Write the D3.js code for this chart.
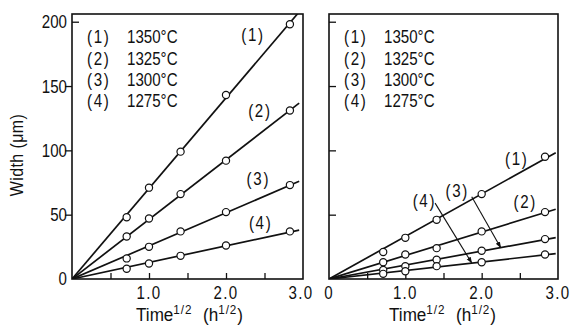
<!DOCTYPE html>
<html>
<head>
<meta charset="utf-8">
<script src="https://cdn.jsdelivr.net/npm/d3@7"></script>
<style>
  body { margin: 0; background: #fff; }
  svg text { font-family: "Liberation Sans", Arial, sans-serif; fill: #111; }
</style>
</head>
<body>
<svg id="chart"></svg>
<script>
// sqrt of time (h^1/2) where the widths were measured
const sqrtTime = [0.71, 1.0, 1.41, 2.0, 2.83];

// left panel widths (um)
const left1350 = [48, 71, 99, 143, 198];
const left1325 = [33, 47, 66, 92, 131];
const left1300 = [16, 25, 37, 52, 73];
const left1275 = [8, 12, 18, 26, 37];

// right panel widths (um)
const right1350 = [21, 32, 46, 66, 95];
const right1325 = [13, 19, 24, 37, 52];
const right1300 = [7, 10, 15, 22, 31];
const right1275 = [4, 6, 10, 13, 19];

const seriesTags = ["(1)", "(2)", "(3)", "(4)"];
const temps = ["1350°C", "1325°C", "1300°C", "1275°C"];

const yTickValues = [50, 100, 150, 200];
const yLabelValues = [0, 50, 100, 150, 200];
const xTickValues = [0.5, 1, 1.5, 2, 2.5];

const svg = d3.select("#chart").attr("width", 575).attr("height", 327);

const y = d3.scaleLinear().domain([0, 206]).range([279, 14]);

// the print uses a narrow face, squeeze normal glyphs sideways
const NARROW = 0.84;
function label(g, x, yy, s, size, anchor) {
  return g.append("text")
    .attr("transform", `translate(${x},${yy}) scale(${NARROW},1)`)
    .attr("dy", "0.36em")
    .attr("text-anchor", anchor || "start")
    .attr("font-size", size)
    .text(s);
}

const panels = [
  {
    x0: 72, x1: 303, data: [left1350, left1325, left1300, left1275],
    xLabels: [1, 2, 3], yLabels: true, lineEnd: 2.95,
    // series tag positions in data units
    tags: [[2.35, 190], [2.44, 131], [2.42, 78], [2.45, 44]],
    arrows: []
  },
  {
    x0: 329, x1: 558, data: [right1350, right1325, right1300, right1275],
    xLabels: [0, 1, 2, 3], yLabels: false, lineEnd: 2.97,
    tags: [[2.46, 94], [2.57, 60], [1.68, 69], [1.25, 61]],
    // [series index, start x, start y, end x on line]
    arrows: [[2, 1.87, 64, 2.25], [3, 1.39, 59, 1.87]]
  }
];

svg.append("defs").append("marker")
  .attr("id", "head")
  .attr("viewBox", "0 0 10 10")
  .attr("refX", 9).attr("refY", 5)
  .attr("markerWidth", 6).attr("markerHeight", 6)
  .attr("orient", "auto")
  .append("path").attr("d", "M0,1.5L10,5L0,8.5Z").attr("fill", "#111");

const fmt = d => d === 0 ? "0" : d3.format(".1f")(d);

panels.forEach((p, pi) => {
  const x = d3.scaleLinear().domain([0, 3]).range([p.x0, p.x1]);
  const g = svg.append("g");

  // frame
  g.append("rect")
    .attr("x", p.x0).attr("y", y.range()[1])
    .attr("width", p.x1 - p.x0).attr("height", y.range()[0] - y.range()[1])
    .attr("fill", "none").attr("stroke", "#111").attr("stroke-width", 1.6);

  // x ticks (inward)
  const xAxis = g.append("g")
    .attr("transform", `translate(0,${y(0)})`)
    .call(d3.axisTop(x).tickValues(xTickValues).tickSize(6).tickFormat(""));
  xAxis.select(".domain").remove();
  xAxis.selectAll("line").attr("stroke", "#111").attr("stroke-width", 1.3);

  // x labels
  p.xLabels.forEach(d => {
    label(g, x(d) + (d === 3 && pi === 0 ? -2 : 0), 293, fmt(d), 18, "middle")
      .attr("letter-spacing", 1.5);
  });

  // y ticks
  if (p.yLabels) {
    const out = g.append("g").attr("transform", `translate(${p.x0},0)`)
      .call(d3.axisLeft(y).tickValues(yTickValues.filter(v => v < 200)).tickSize(7).tickFormat(""));
    out.select(".domain").remove();
    const inn = g.append("g").attr("transform", `translate(${p.x0},0)`)
      .call(d3.axisRight(y).tickValues([200]).tickSize(7).tickFormat(""));
    inn.select(".domain").remove();
    g.selectAll(".tick line").attr("stroke", "#111").attr("stroke-width", 1.3);

    yLabelValues.forEach(d => label(g, p.x0 - 5, y(d), d, 18, "end"));
  } else {
    const inn = g.append("g").attr("transform", `translate(${p.x0},0)`)
      .call(d3.axisRight(y).tickValues(yTickValues).tickSize(7).tickFormat(""));
    inn.select(".domain").remove();
    inn.selectAll("line").attr("stroke", "#111").attr("stroke-width", 1.3);
  }

  // legend
  const lx = p.x0 + 15;
  temps.forEach((t, i) => {
    const ly = 37 + i * 21.2;
    label(g, lx, ly, seriesTags[i], 18).attr("letter-spacing", 2);
    label(g, lx + 40, ly, t, 18);
  });

  const clipId = "clip" + pi;
  svg.append("clipPath").attr("id", clipId).append("rect")
    .attr("x", p.x0).attr("y", y.range()[1])
    .attr("width", p.x1 - p.x0).attr("height", y.range()[0] - y.range()[1]);

  // fitted lines through origin + points
  const slopes = p.data.map(vals => {
    const sxy = d3.sum(vals, (v, i) => v * sqrtTime[i]);
    const sxx = d3.sum(sqrtTime, t => t * t);
    return sxy / sxx;
  });

  const line = d3.line().x(d => x(d[0])).y(d => y(d[1]));
  p.data.forEach((vals, si) => {
    g.append("path")
      .datum([[0, 0], [p.lineEnd, slopes[si] * p.lineEnd]])
      .attr("d", line)
      .attr("clip-path", `url(#${clipId})`)
      .attr("fill", "none").attr("stroke", "#111").attr("stroke-width", 1.7);
  });

  p.data.forEach(vals => {
    g.selectAll(null).data(vals).enter().append("circle")
      .attr("cx", (d, i) => x(sqrtTime[i]))
      .attr("cy", d => y(d))
      .attr("r", 3.6)
      .attr("fill", "#fff").attr("stroke", "#111").attr("stroke-width", 1.2);
  });

  // series tags
  p.tags.forEach((t, i) => {
    label(g, x(t[0]), y(t[1]), seriesTags[i], 18, "middle").attr("letter-spacing", 2);
  });

  // arrows
  p.arrows.forEach(a => {
    const [si, sx, sy, ex] = a;
    g.append("line")
      .attr("x1", x(sx)).attr("y1", y(sy))
      .attr("x2", x(ex)).attr("y2", y(slopes[si] * ex))
      .attr("stroke", "#111").attr("stroke-width", 1.1)
      .attr("marker-end", "url(#head)");
  });

  // x title
  const tt = g.append("text")
    .attr("transform", `translate(${(p.x0 + p.x1) / 2 + (pi === 0 ? 2 : -1)},321) scale(0.9,1)`)
    .attr("text-anchor", "middle")
    .attr("font-size", 19);
  tt.append("tspan").text("Time");
  tt.append("tspan").attr("font-size", 13).attr("dy", -7).attr("letter-spacing", 1).text("1/2");
  tt.append("tspan").attr("dy", 7).attr("xml:space", "preserve").attr("dx", 12).text("(h");
  tt.append("tspan").attr("font-size", 13).attr("dy", -7).attr("letter-spacing", 1).text("1/2");
  tt.append("tspan").attr("dy", 7).text(")");
});

// y title
svg.append("text")
  .attr("transform", `translate(23,155) rotate(-90) scale(${NARROW},1)`)
  .attr("text-anchor", "middle")
  .attr("font-size", 19)
  .attr("letter-spacing", 0.5)
  .text("Width  (μm)");
</script>
</body>
</html>
